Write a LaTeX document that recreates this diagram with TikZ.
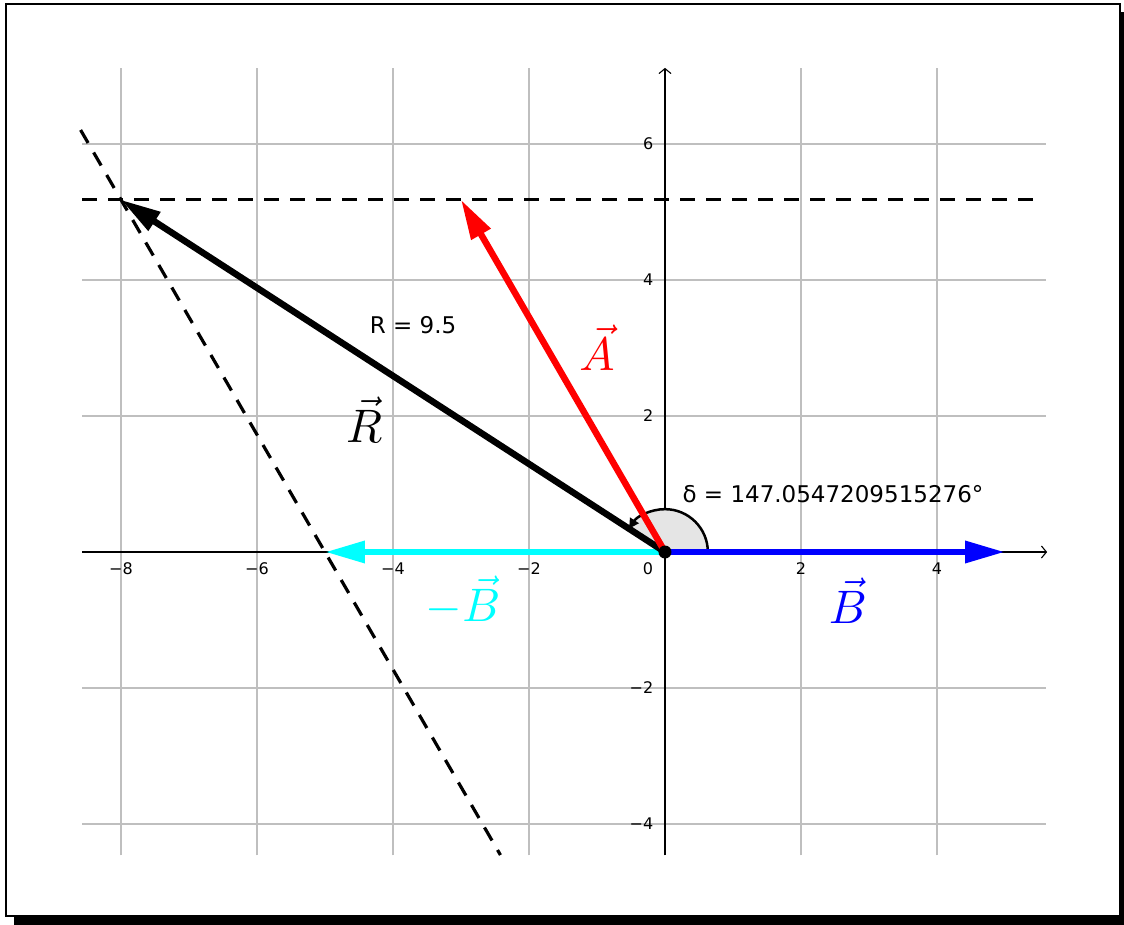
\documentclass[tikz,border=0pt]{standalone}
\usepackage{fontspec}
\newfontfamily\dv{DejaVu Sans}
\usetikzlibrary{arrows.meta}
\definecolor{pcyan}{RGB}{0,255,255}
\definecolor{pblue}{RGB}{0,0,255}
\definecolor{pred}{RGB}{255,0,0}
\begin{document}
\begin{tikzpicture}[x=68pt,y=68pt,
  gridline/.style={draw=black!25, line width=1.3pt},
  axisline/.style={line width=1.1pt, -{Straight Barb[length=5pt,width=12pt,line width=1.1pt]}},
  vecline/.style={line width=6.5pt, -{Triangle[length=40pt,width=21pt]}},
  dashline/.style={line width=3.2pt, dash pattern=on 15pt off 11pt},
  ticklbl/.style={font=\dv\fontsize{16}{16}\selectfont, inner sep=0pt},
  txtlbl/.style={font=\dv\fontsize{23}{23}\selectfont, inner sep=0pt},
  veclbl/.style={inner sep=0pt, scale=4.7}]
\useasboundingbox (-9.7794,-5.4706) rectangle (6.75,8.1176);
% frame with shadow
\fill[black] (-9.574,7.941) rectangle (6.85,-5.55);
\draw[line width=2.8pt, fill=white] (-9.691,8.059) rectangle (6.69,-5.353);
% grid
\foreach \x in {-8,-6,-4,-2,2,4} \draw[gridline] (\x,-4.46) -- (\x,7.12);
\foreach \y in {-4,-2,2,4,6} \draw[gridline] (-8.57,\y) -- (5.6,\y);
% axes
\coordinate (xl) at (-8.57,0); \coordinate (xr) at (5.62,0);
\coordinate (yb) at (0,-4.46); \coordinate (yt) at (0,7.12);
\draw[axisline] (xl) -- (xr);
\draw[axisline] (yb) -- (yt);
% tick labels
\foreach \x/\t in {-8/−8,-6/−6,-4/−4,-2/−2,2/2,4/4}
  \node[ticklbl] (tx\x) at (\x,-0.25) {\t};
\node[ticklbl] (t0) at (-0.25,-0.25) {0};
\foreach \y/\t in {6/6,4/4,2/2,-2/−2,-4/−4}
  \node[ticklbl, anchor=east] (ty\y) at (-0.17,\y) {\t};
% points
\coordinate (O) at (0,0);
\coordinate (Btip) at (5,0);
\coordinate (mBtip) at (-5,0);
\coordinate (Atip) at (-3,5.18);
\coordinate (Rtip) at (-8,5.18);
% dashed lines
\coordinate (hl) at (-8.57,5.18); \coordinate (hr) at (5.55,5.18);
\coordinate (sl) at (-8.594,6.206); \coordinate (sr) at (-2.42,-4.456);
\draw[dashline] (hl) -- (hr);
\draw[dashline] (sl) -- (sr);
% angle
\fill[black!10] (O) -- (0.63,0) arc[start angle=0,end angle=147.05,radius=0.63] -- cycle;
\draw[line width=2.5pt, -{Triangle[length=10pt,width=10pt]}] (0.63,0) arc[start angle=0,end angle=147.05,radius=0.63];
% vectors
\draw[vecline, pcyan] (O) -- (mBtip);
\draw[vecline, pblue] (O) -- (Btip);
\draw[vecline, black] (O) -- (Rtip);
\draw[vecline, pred] (O) -- (Atip);
\fill[black] (O) circle[radius=6.5pt];
% labels
\node[txtlbl] (rlab) at (-3.706,3.338) {R = 9.5};
\node[txtlbl] (dlab) at (2.471,0.853) {δ = 147.0547209515276°};
\node[veclbl] (Rv) at (-4.426,1.94) {$\vec{R}$};
\node[veclbl, text=pred] (Av) at (-1.0,3.0) {$\vec{A}$};
\node[veclbl, text=pcyan] (mBv) at (-2.97,-0.71) {$-\vec{B}$};
\node[veclbl, text=pblue] (Bv) at (2.69,-0.71) {$\vec{B}$};
\end{tikzpicture}
\end{document}
